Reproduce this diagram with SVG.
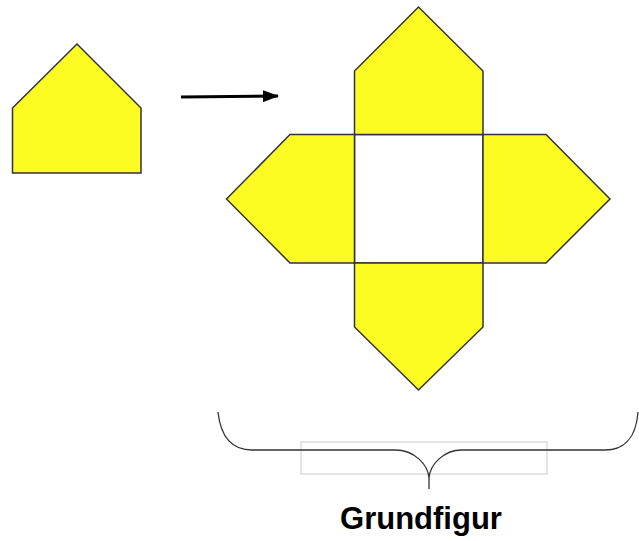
<svg xmlns="http://www.w3.org/2000/svg" width="639" height="541" viewBox="0 0 639 541">
<style>
.p{fill:#fcfc22;stroke:#333;stroke-width:1.5;stroke-linejoin:miter}
.sq{fill:#fff;stroke:#333;stroke-width:1.5}
.br{fill:none;stroke:#333;stroke-width:1.3}
</style>
<defs>
<marker id="ah" markerWidth="16" markerHeight="12" refX="15" refY="6" orient="auto" markerUnits="userSpaceOnUse">
<path d="M0,0 L16,6 L0,12 Z" fill="#000"/>
</marker>
</defs>
<rect width="639" height="541" fill="#fff"/>
<g id="single"><polygon class="p" points="12.5,108 77,44 141,108 141,173 12.5,173"/></g>
<g id="connectors">
<line x1="181" y1="97" x2="278" y2="96" stroke="#000" stroke-width="3" marker-end="url(#ah)"/>
</g>
<g id="square"><rect class="sq" x="354.5" y="134.5" width="128.5" height="128.5"/></g>
<g id="top"><polygon class="p" points="354.5,134.5 354.5,71 418.5,7 483,71 483,134.5"/></g>
<g id="bottom"><polygon class="p" points="354.5,263 354.5,327 418.5,390 483,327 483,263"/></g>
<g id="left"><polygon class="p" points="354.5,134.5 290,134.5 226.5,199 290,263 354.5,263"/></g>
<g id="right"><polygon class="p" points="483,134.5 546,134.5 610,199 546,263 483,263"/></g>
<g id="brace">
<rect x="301" y="442" width="246" height="32" fill="none" stroke="#ccc" stroke-width="1"/>
<path class="br" d="M218,412 C221,440 235,450 252,450 L395,450 C415,450 428,465 429,478 L429,489 M429,478 C430,465 443,450 462,450 L605,450 C622,450 636,440 638,412"/>
</g>
<g id="label"><text x="421" y="529" text-anchor="middle" font-family="Liberation Sans, Arial, sans-serif" font-weight="bold" font-size="31" fill="#000">Grundfigur</text></g>
</svg>
